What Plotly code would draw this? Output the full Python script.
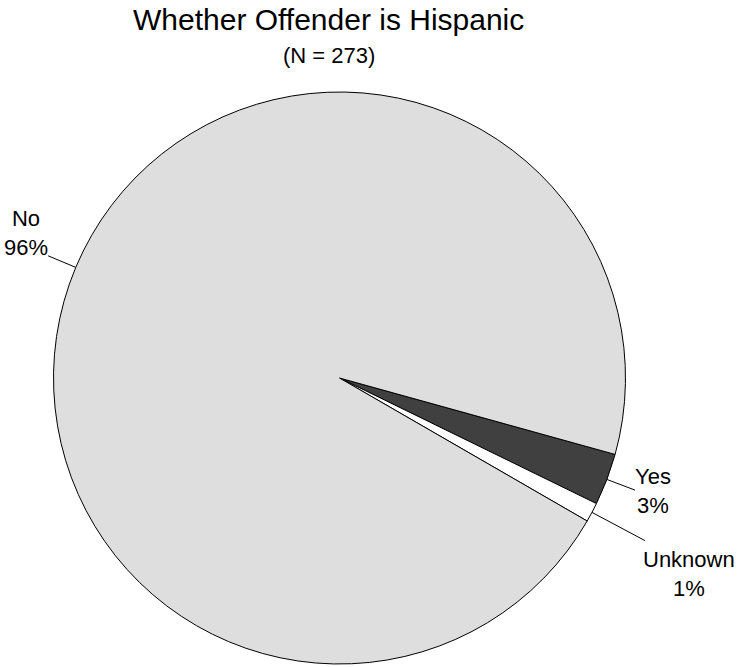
import math
import plotly.graph_objects as go

# ---- data ----
categories = ["Yes", "Unknown", "No"]
counts = [8, 3, 262]
pct_labels = ["3%", "1%", "96%"]
colors = ["#404040", "#ffffff", "#dedede"]
title_text = "Whether Offender is Hispanic"
subtitle_text = "(N = 273)"

# ---- layout constants (pixels) ----
W, H = 740, 667
cx, cy, R = 339.5, 378.0, 286.0
start_deg = 15.5  # clockwise from 3 o'clock
leader_len = {"Yes": 30, "Unknown": 60, "No": 30}
FONT = "Liberation Sans, Arial, sans-serif"

def px_to_paper(x, y):
    return x / W, 1 - y / H

fig = go.Figure(go.Pie(
    labels=categories,
    values=counts,
    sort=False,
    direction="clockwise",
    rotation=90 + start_deg,
    marker=dict(colors=colors, line=dict(color="#000000", width=1)),
    textinfo="none",
    hoverinfo="label+percent",
    domain=dict(x=[(cx - R) / W, (cx + R) / W], y=[1 - (cy + R) / H, 1 - (cy - R) / H]),
    showlegend=False,
))

total = sum(counts)
ang = start_deg
shapes = []
annotations = []
for cat, v, pl in zip(categories, counts, pct_labels):
    span = v / total * 360
    mid = math.radians(ang + span / 2)
    ang += span
    x0 = cx + R * math.cos(mid)
    y0 = cy + R * math.sin(mid)
    L = leader_len[cat]
    x1 = cx + (R + L) * math.cos(mid)
    y1 = cy + (R + L) * math.sin(mid)
    p0 = px_to_paper(x0, y0)
    p1 = px_to_paper(x1, y1)
    shapes.append(dict(type="line", xref="paper", yref="paper",
                       x0=p0[0], y0=p0[1], x1=p1[0], y1=p1[1],
                       line=dict(color="#000000", width=1)))
    if cat == "No":
        xa, ya = "right", "bottom"
        tx, ty = x1 + 2, y1 + 6
    elif cat == "Yes":
        xa, ya = "left", "middle"
        tx, ty = x1 - 2, y1 + 1
    else:
        xa, ya = "left", "top"
        tx, ty = x1 - 4, y1 + 4
    pt = px_to_paper(tx, ty)
    annotations.append(dict(x=pt[0], y=pt[1], xref="paper", yref="paper",
                            text=f"{cat}<br>{pl}", showarrow=False,
                            xanchor=xa, yanchor=ya, align="center",
                            font=dict(family=FONT, size=22, color="#000000")))

t = px_to_paper(328.5, 19)
annotations.append(dict(x=t[0], y=t[1], xref="paper", yref="paper", text=title_text,
                        showarrow=False, xanchor="center", yanchor="middle",
                        font=dict(family=FONT, size=30, color="#000000")))
s = px_to_paper(329, 56)
annotations.append(dict(x=s[0], y=s[1], xref="paper", yref="paper", text=subtitle_text,
                        showarrow=False, xanchor="center", yanchor="middle",
                        font=dict(family=FONT, size=22, color="#000000")))

fig.update_layout(
    width=W, height=H,
    margin=dict(l=0, r=0, t=0, b=0),
    paper_bgcolor="#ffffff",
    plot_bgcolor="#ffffff",
    shapes=shapes,
    annotations=annotations,
)

fig.write_html("out.html",
               config={"displayModeBar": False},
               post_script="document.body.style.margin='0';document.body.style.overflow='hidden';")
